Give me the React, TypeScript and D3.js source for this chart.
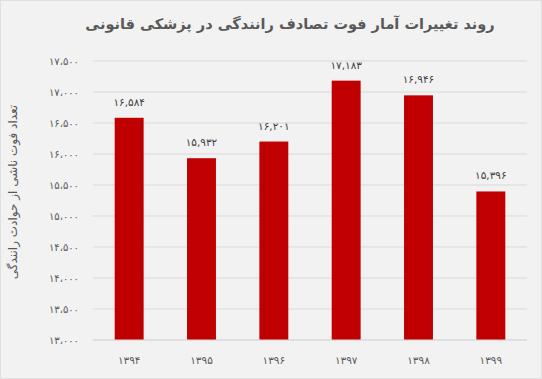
import React from "react";
import * as d3 from "d3";

const years = ["۱۳۹۴", "۱۳۹۵", "۱۳۹۶", "۱۳۹۷", "۱۳۹۸", "۱۳۹۹"];
const deaths = [16584, 15932, 16201, 17183, 16946, 15396];
const valueLabels = ["۱۶,۵۸۴", "۱۵,۹۳۲", "۱۶,۲۰۱", "۱۷,۱۸۳", "۱۶,۹۴۶", "۱۵,۳۹۶"];
const yTicks = [13000, 13500, 14000, 14500, 15000, 15500, 16000, 16500, 17000, 17500];
const yTickLabels = ["۱۳،۰۰۰", "۱۳،۵۰۰", "۱۴،۰۰۰", "۱۴،۵۰۰", "۱۵،۰۰۰", "۱۵،۵۰۰", "۱۶،۰۰۰", "۱۶،۵۰۰", "۱۷،۰۰۰", "۱۷،۵۰۰"];
const title = "روند تغییرات آمار فوت تصادف رانندگی در پزشکی قانونی";
const yTitle = "تعداد فوت ناشی از حوادث رانندگی";

const W = 542, H = 379;
const FONT = "'DejaVu Sans', 'Noto Sans', sans-serif";

export default function App() {
  const x = d3.scaleBand<string>().domain(years).range([93, 527]).paddingInner(0.6).paddingOuter(0.3);
  const y = d3.scaleLinear().domain([13000, 17500]).range([340, 61]);
  return (
    <svg width={W} height={H} style={{ position: "absolute", left: 0, top: 0, background: "#f2f2f2" }}>
      <rect x={0.5} y={0.5} width={W - 1} height={H - 1} fill="#f2f2f2" stroke="#e0e0e0" />
      <text x={290} y={29} textAnchor="middle" fontFamily={FONT} fontWeight="bold" fontSize={14.5} fill="#595959">
        {title}
      </text>
      {yTicks.map((t, i) => (
        <g key={t}>
          <line x1={93} x2={527} y1={y(t)} y2={y(t)} stroke="#d9d9d9" strokeWidth={1} />
          <text x={79} y={y(t)} dy="0.35em" textAnchor="end" fontFamily={FONT} fontSize={10} fill="#595959">
            {yTickLabels[i]}
          </text>
        </g>
      ))}
      {years.map((yr, i) => (
        <g key={yr}>
          <rect x={x(yr)} y={y(deaths[i])} width={x.bandwidth()} height={340 - y(deaths[i])} fill="#c00000" />
          <text x={(x(yr) as number) + x.bandwidth() / 2} y={y(deaths[i]) - 12} textAnchor="middle" fontFamily={FONT} fontSize={10.5} fill="#404040">
            {valueLabels[i]}
          </text>
          <text x={(x(yr) as number) + x.bandwidth() / 2} y={360} dy="0.35em" textAnchor="middle" fontFamily={FONT} fontSize={10.5} fill="#595959">
            {yr}
          </text>
        </g>
      ))}
      <line x1={93} x2={527} y1={340} y2={340} stroke="#d9d9d9" />
      <text transform={`translate(13,192) rotate(-90)`} textAnchor="middle" dy="0.35em" fontFamily={FONT} fontSize={12} fill="#595959">
        {yTitle}
      </text>
    </svg>
  );
}
